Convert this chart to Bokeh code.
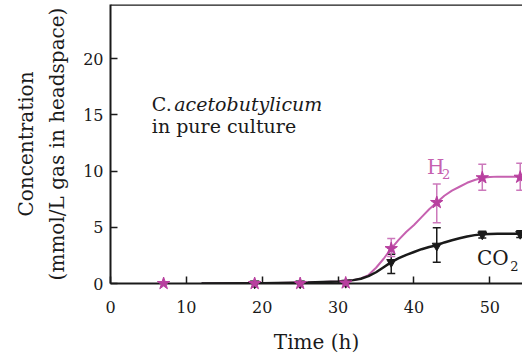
from bokeh.plotting import figure
from bokeh.models import ColumnDataSource, Whisker, Label, LinearAxis, Span, FixedTicker, Range1d, TeeHead
from bokeh.embed import file_html
from bokeh.resources import INLINE

# ---- data ----
H2_TIME = [7, 19, 25, 31, 37, 43, 49, 54]
H2_CONC = [0.0, 0.0, 0.0, 0.05, 3.1, 7.2, 9.4, 9.45]
H2_LOW = [0.0, 0.0, 0.0, 0.05, 2.4, 5.4, 8.3, 8.3]
H2_HIGH = [0.0, 0.0, 0.0, 0.05, 4.0, 8.85, 10.6, 10.7]

CO2_TIME = [19, 25, 31, 37, 43, 49, 54]
CO2_CONC = [0.0, 0.0, 0.05, 1.9, 3.35, 4.35, 4.4]
CO2_LOW = [0.0, 0.0, 0.05, 0.9, 1.9, 4.05, 4.1]
CO2_HIGH = [0.0, 0.0, 0.05, 2.6, 4.95, 4.65, 4.7]

# fitted curves
FIT_TIME = [12, 20, 26, 30, 32, 33, 34, 35, 36, 37, 38, 39, 40, 41, 42, 43, 44, 45, 46, 47, 48, 49, 50, 51, 52, 55]
H2_FIT = [0.0, 0.02, 0.08, 0.18, 0.3, 0.45, 0.75, 1.4, 2.2, 3.1, 3.9, 4.6, 5.2, 5.9, 6.6, 7.2, 7.8, 8.25, 8.6, 8.95, 9.2, 9.4, 9.47, 9.5, 9.5, 9.5]
CO2_FIT = [0.0, 0.02, 0.08, 0.18, 0.3, 0.42, 0.65, 1.0, 1.45, 1.9, 2.25, 2.55, 2.8, 3.05, 3.25, 3.4, 3.65, 3.85, 4.02, 4.18, 4.3, 4.37, 4.4, 4.42, 4.42, 4.42]

X_TICKS = [0, 10, 20, 30, 40, 50]
Y_TICKS = [0, 5, 10, 15, 20]

PINK = "#b8409f"
PINK_LINE = "#c661b0"
PINK_ERR = "#cc78bb"
BLACK = "#1a1a1a"
FONT = "DejaVu Serif"

X_MAX = 54.3
Y_MAX = 24.8

p = figure(width=522, height=356, output_backend="svg", toolbar_location=None,
           x_range=Range1d(0, X_MAX), y_range=Range1d(0, Y_MAX),
           min_border_left=110, min_border_right=0, min_border_top=4, min_border_bottom=73)
p.background_fill_color = "white"
p.border_fill_color = "white"
p.outline_line_color = None
p.grid.visible = False

for ax in (p.xaxis[0], p.yaxis[0]):
    ax.axis_line_width = 2
    ax.axis_line_color = BLACK
    ax.major_tick_in = 7
    ax.major_tick_out = 0
    ax.major_tick_line_width = 1.5
    ax.major_tick_line_color = BLACK
    ax.minor_tick_line_color = None
    ax.major_label_text_font = FONT
    ax.major_label_text_font_size = "16px"
    ax.major_label_text_color = BLACK
    ax.axis_label_text_font = FONT
    ax.axis_label_text_font_style = "normal"
    ax.axis_label_text_font_size = "20px"
    ax.axis_label_text_color = BLACK

p.xaxis[0].ticker = FixedTicker(ticks=X_TICKS)
p.yaxis[0].ticker = FixedTicker(ticks=Y_TICKS)
p.xaxis[0].axis_label = "Time (h)"
p.xaxis[0].major_label_standoff = 17
p.xaxis[0].axis_label_standoff = 14
p.yaxis[0].axis_label = "(mmol/L gas in headspace)"
p.yaxis[0].major_label_standoff = 7
p.yaxis[0].axis_label_standoff = 11

outer = LinearAxis(axis_label="Concentration", ticker=FixedTicker(ticks=[]),
                   axis_line_color=None, major_tick_line_color=None, minor_tick_line_color=None,
                   major_label_text_font_size="0px", axis_label_standoff=5,
                   axis_label_text_font=FONT, axis_label_text_font_style="normal",
                   axis_label_text_font_size="20px", axis_label_text_color=BLACK)
p.add_layout(outer, "left")

p.add_layout(Span(location=Y_MAX, dimension="width", line_color=BLACK, line_width=2.5))

fit = ColumnDataSource(dict(t=FIT_TIME, h2=H2_FIT, co2=CO2_FIT))
p.line("t", "h2", source=fit, line_color=PINK_LINE, line_width=2)
p.line("t", "co2", source=fit, line_color=BLACK, line_width=2.5)

h2 = ColumnDataSource(dict(t=H2_TIME, c=H2_CONC, lo=H2_LOW, hi=H2_HIGH))
co2 = ColumnDataSource(dict(t=CO2_TIME, c=CO2_CONC, lo=CO2_LOW, hi=CO2_HIGH))

p.add_layout(Whisker(source=co2, base="t", lower="lo", upper="hi", line_color=BLACK, line_width=1.5,
                     upper_head=TeeHead(size=8, line_color=BLACK, line_width=1.5),
                     lower_head=TeeHead(size=8, line_color=BLACK, line_width=1.5)))
p.add_layout(Whisker(source=h2, base="t", lower="lo", upper="hi", line_color=PINK_ERR, line_width=1.5,
                     upper_head=TeeHead(size=8, line_color=PINK_ERR, line_width=1.5),
                     lower_head=TeeHead(size=8, line_color=PINK_ERR, line_width=1.5)))

p.scatter("t", "c", source=co2, marker="inverted_triangle", size=9, fill_color=BLACK, line_color=BLACK,
          level="overlay")
p.scatter("t", "c", source=h2, marker="star", size=13, fill_color=PINK, line_color=PINK,
          level="overlay")

p.add_layout(Label(x=41.7, y=10.4, text="H", text_font=FONT, text_font_size="20px",
                   text_color=PINK_LINE, text_align="left", text_baseline="middle"))
p.add_layout(Label(x=43.7, y=9.7, text="2", text_font=FONT, text_font_size="13px",
                   text_color=PINK_LINE, text_align="left", text_baseline="middle"))
p.add_layout(Label(x=48.3, y=2.3, text="CO", text_font=FONT, text_font_size="20px",
                   text_color=BLACK, text_align="left", text_baseline="middle"))
p.add_layout(Label(x=52.7, y=1.6, text="2", text_font=FONT, text_font_size="13px",
                   text_color=BLACK, text_align="left", text_baseline="middle"))

p.add_layout(Label(x=5.45, y=16.0, text="C.", text_font=FONT, text_font_size="19px",
                   text_color=BLACK, text_align="left", text_baseline="middle"))
p.add_layout(Label(x=8.4, y=16.0, text="acetobutylicum", text_font=FONT, text_font_size="19px",
                   text_font_style="italic", text_color=BLACK, text_align="left", text_baseline="middle"))
p.add_layout(Label(x=5.45, y=14.0, text="in pure culture", text_font=FONT, text_font_size="19px",
                   text_color=BLACK, text_align="left", text_baseline="middle"))

open("out.html", "w").write(file_html(p, INLINE))
